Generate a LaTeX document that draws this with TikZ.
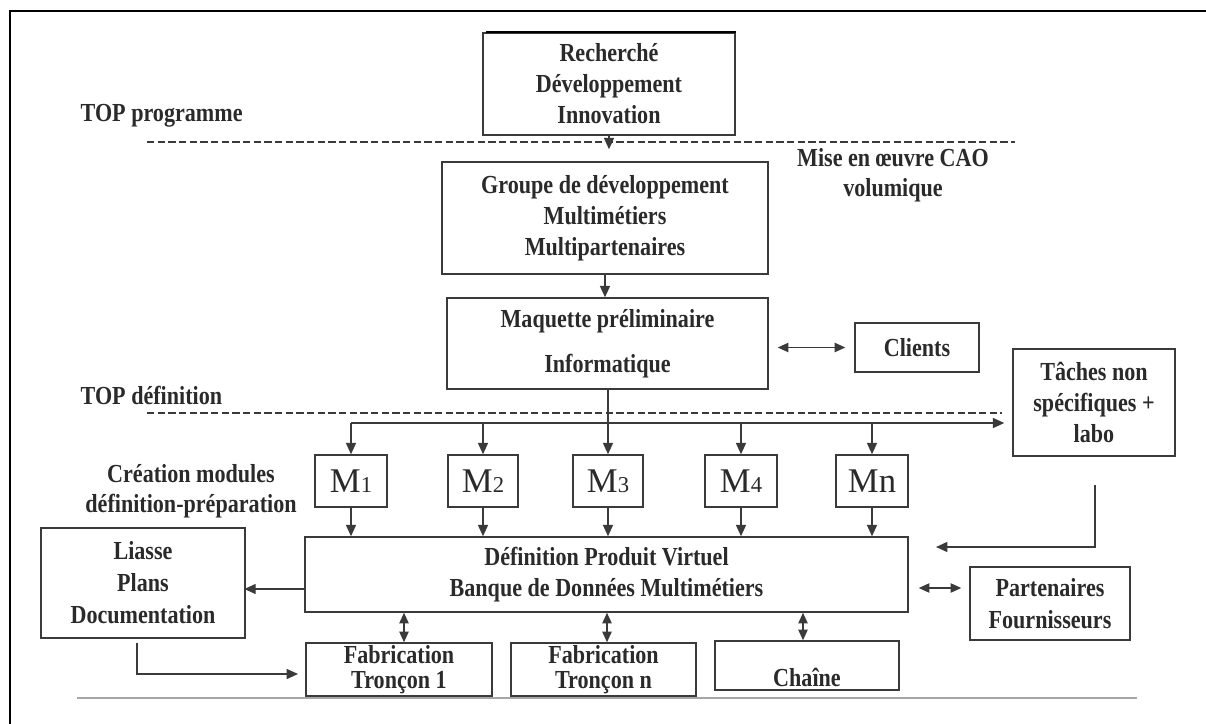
\documentclass[tikz,border=0pt]{standalone}
\usepackage{fontspec}
\newfontfamily\cf{Liberation Serif}[FakeStretch=0.85]
\newfontfamily\mf{Liberation Serif}
\usetikzlibrary{arrows.meta}
\definecolor{lc}{HTML}{3A3A3A}
\definecolor{tc}{HTML}{2A2A2A}
\begin{document}
\begin{tikzpicture}[x=0.75pt,y=-0.75pt,
  box/.style={draw=lc,line width=1.1pt,inner sep=0pt},
  sz/.style 2 args={minimum width=#1*0.75pt,minimum height=#2*0.75pt},
  bt/.style={font=\cf\bfseries\fontsize{19.5}{23.25}\selectfont,text=tc,align=center},
  mt/.style={font=\mf\fontsize{26}{27}\selectfont,text=tc},
  con/.style={draw=lc,line width=1.1pt},
  tip/.style={-{Triangle[length=8.5pt,width=7.5pt]}},
  dtip/.style={{Triangle[length=8pt,width=7pt]}-{Triangle[length=8pt,width=7pt]}},
  dline/.style={draw=lc,line width=1.1pt,dash pattern=on 5.5pt off 2.5pt}]
\useasboundingbox (0,0) rectangle (1206,724);
% frame
\draw[black,line width=2.2pt] (10,724) -- (10,11) -- (1206,11);
% boxes
\node[box,bt,sz={252}{102}] (rec) at (609,84) {Recherché\\Développement\\Innovation};
\draw[black,line width=1.7pt] ([xshift=3pt]rec.north west) -- (rec.north east);
\node[box,bt,sz={326}{112}] (grp) at (605,218) {Groupe de développement\\Multimétiers\\Multipartenaires};
\node[box,bt,sz={321}{91}] (maq) at (607.5,343.5) {Maquette préliminaire\\[10.5pt]Informatique};
\node[box,bt,sz={124}{49}] (cli) at (917,347.5) {Clients};
\node[box,bt,sz={162}{107}] (tac) at (1094,402.5) {Tâches non\\spécifiques +\\labo};
\node[box,mt,sz={72}{52}] (m1) at (351,481) {M{\fontsize{17}{17}\selectfont 1}};
\node[box,mt,sz={70}{52}] (m2) at (483,481) {M{\fontsize{17}{17}\selectfont 2}};
\node[box,mt,sz={70}{52}] (m3) at (608,481) {M{\fontsize{17}{17}\selectfont 3}};
\node[box,mt,sz={72}{52}] (m4) at (741,481) {M{\fontsize{17}{17}\selectfont 4}};
\node[box,mt,sz={72}{52}] (mn) at (872,481) {Mn};
\node[box,bt,sz={603}{75}] (def) at (606.5,574.5) {Définition Produit Virtuel\\Banque de Données Multimétiers};
\node[box,bt,sz={204}{110}] (lia) at (143,583) {Liasse\\[0.75pt]Plans\\[0.75pt]Documentation};
\node[box,bt,sz={160}{73}] (par) at (1050,603.5) {Partenaires\\[1pt]Fournisseurs};
\node[box,bt,sz={186}{53}] (fab1) at (399,669.5) {Fabrication\\[-4.5pt]Tronçon 1};
\node[box,bt,sz={185}{53}] (fabn) at (603.5,669.5) {Fabrication\\[-4.5pt]Tronçon n};
\node[box,sz={184}{49}] (cha) at (807,665.5) {};
\node[bt] (chat) at (807,677) {Chaîne};
% free labels
\node[bt,anchor=base west] (topp) at (76,121) {TOP programme};
\node[bt] (mise) at (893,175) {Mise en œuvre CAO\\[-1pt]volumique};
\node[bt,anchor=base west] (topd) at (76,404) {TOP définition};
\node[bt] (crea) at (191,491) {Création modules\\[-1pt]définition-préparation};
% dashed separators
\draw[dline] (147,142) -- (1015,142);
\draw[dline] (147,413) -- (1002,413);
% bottom rule
\draw[black!35,line width=1.4pt] (77,698) -- (1137,698);
% connectors
\draw[con,tip,shorten >=9pt] (rec.south) -- (rec.south |- grp.north);
\draw[con,tip] (grp.south) -- (grp.south |- maq.north);
\draw[con,dtip,shorten <=6.75pt,shorten >=6.75pt] (maq.east |- cli.west) -- (cli.west);
\draw[con,tip] (maq.south -| m3.north) -- (m3.north);
\coordinate (bus) at (0,423);
\draw[con,tip,shorten >=6pt] (m1.north |- bus) -- (bus -| tac.west);
\foreach \m in {m1,m2,m4,mn} \draw[con,tip] (\m.north |- bus) -- (\m.north);
\foreach \m in {m1,m2,m3,m4,mn} \draw[con,tip] (\m.south) -- (\m.south |- def.north);
\coordinate (t1) at (1095,485);
\coordinate (t2) at (936,547);
\draw[con,tip] (t1) |- (t2);
\coordinate (ly) at (0,589);
\draw[con,tip,shorten >=-1pt] (def.west |- ly) -- (lia.east |- ly);
\coordinate (py) at (0,588);
\draw[con,dtip,shorten <=7.5pt,shorten >=6pt] (def.east |- py) -- (par.west |- py);
\coordinate (f1) at (404,0);
\coordinate (f2) at (607,0);
\coordinate (f3) at (803,0);
\draw[con,dtip] (def.south -| f1) -- (fab1.north -| f1);
\draw[con,dtip] (def.south -| f2) -- (fabn.north -| f2);
\draw[con,dtip] (def.south -| f3) -- (cha.north -| f3);
\coordinate (l1) at (137,643);
\coordinate (l2) at (298,674);
\draw[con,tip] (l1) |- (l2);
\end{tikzpicture}
\end{document}
